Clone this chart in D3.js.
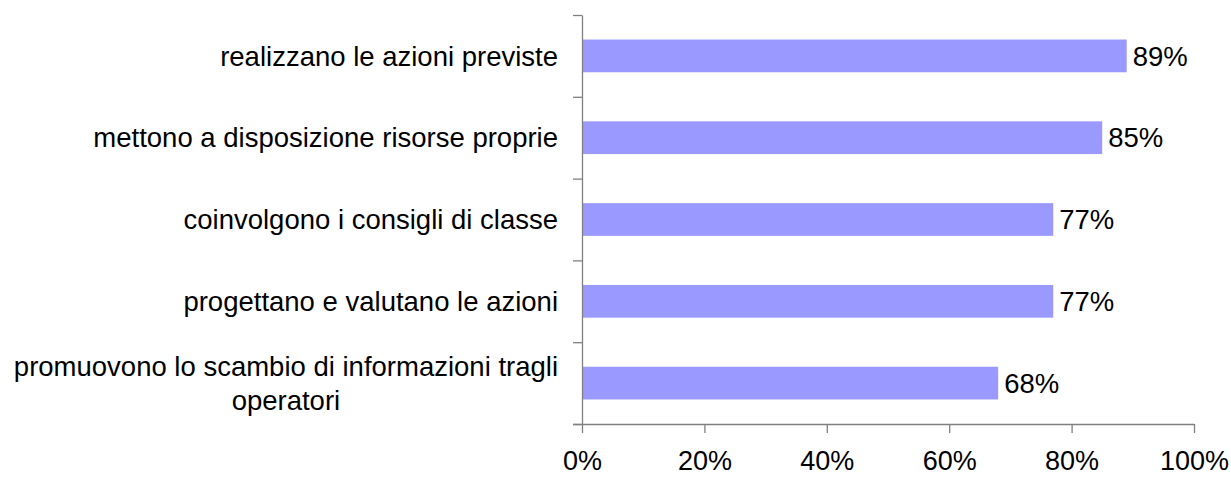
<!DOCTYPE html>
<html>
<head>
<meta charset="utf-8">
<style>
  body { margin: 0; background: #fff; }
  svg { font-family: "Liberation Sans", Arial, sans-serif; }
  .axis path, .axis line { stroke: #808080; stroke-width: 1.3; }
  .axis text { fill: #000; font-size: 27px; }
</style>
<script src="https://d3js.org/d3.v7.min.js"></script>
</head>
<body>
<svg width="1231" height="477"></svg>
<script>
// data (top to bottom)
const categories = [
  ["realizzano le azioni previste"],
  ["mettono a disposizione risorse proprie"],
  ["coinvolgono i consigli di classe"],
  ["progettano e valutano le azioni"],
  ["promuovono lo scambio di informazioni tragli", "operatori"]
];
const values = [0.89, 0.85, 0.77, 0.77, 0.68];
const xTicks = [0, 0.2, 0.4, 0.6, 0.8, 1.0];

const svg = d3.select("svg");
const plotLeft = 582, plotRight = 1194, plotTop = 15, plotBottom = 424;

const x = d3.scaleLinear().domain([0, 1]).range([plotLeft, plotRight]);
const y = d3.scaleBand().domain(d3.range(categories.length))
  .range([plotTop, plotBottom]).paddingInner(0.6).paddingOuter(0.3);

// bars
svg.append("g").selectAll("rect")
  .data(values)
  .join("rect")
    .attr("x", x(0))
    .attr("y", (d, i) => y(i))
    .attr("width", d => x(d) - x(0))
    .attr("height", y.bandwidth())
    .attr("fill", "#9999FF");

// value labels
svg.append("g").selectAll("text")
  .data(values)
  .join("text")
    .attr("x", d => x(d) + 6)
    .attr("y", (d, i) => y(i) + y.bandwidth() / 2)
    .attr("dy", "0.35em")
    .attr("font-size", 27.5)
    .text(d => d3.format(".0%")(d));

// x axis
const xAxis = svg.append("g")
  .attr("class", "axis")
  .attr("transform", `translate(0,${plotBottom})`)
  .call(d3.axisBottom(x).tickValues(xTicks).tickFormat(d3.format(".0%"))
    .tickSizeInner(9).tickSizeOuter(0).tickPadding(0));
xAxis.select(".domain").attr("d", `M${plotLeft - 9},0.5H${plotRight}`);
// baseline-anchored tick labels
xAxis.selectAll(".tick text").attr("dy", null).attr("y", 46);

// y axis: ticks on category boundaries
const yb = d3.scaleLinear().domain([0, categories.length]).range([plotTop, plotBottom]);
svg.append("g")
  .attr("class", "axis")
  .attr("transform", `translate(${plotLeft},0)`)
  .call(d3.axisLeft(yb).ticks(categories.length).tickFormat("").tickSizeInner(9).tickSizeOuter(0));

// category labels
const labelRight = plotLeft - 24;
categories.forEach((lines, i) => {
  const cy = y(i) + y.bandwidth() / 2;
  const lh = 34;
  const t = svg.append("text")
    .attr("font-size", 27.5)
    .attr("fill", "#000");
  lines.forEach((ln, j) => {
    t.append("tspan")
      .attr("y", cy + (j - (lines.length - 1) / 2) * lh)
      .attr("dy", "0.35em")
      .text(ln);
  });
  // center the lines inside a block right-aligned to labelRight
  const spans = t.selectAll("tspan").nodes();
  const maxW = d3.max(spans, s => s.getComputedTextLength());
  spans.forEach(s => {
    d3.select(s).attr("x", labelRight - maxW / 2).attr("text-anchor", "middle");
  });
});
</script>
</body>
</html>
